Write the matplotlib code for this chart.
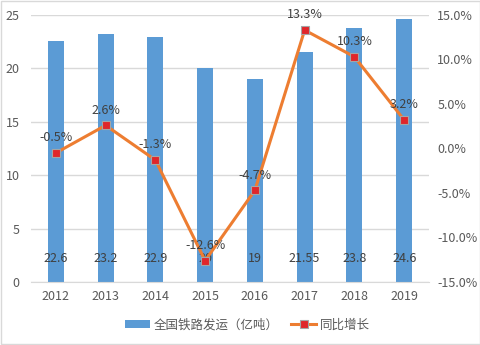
import matplotlib.pyplot as plt
import numpy as np

plt.rcParams['font.family'] = ['Noto Sans CJK SC', 'DejaVu Sans']

# yearly freight volume and year-on-year growth
years = ["2012", "2013", "2014", "2015", "2016", "2017", "2018", "2019"]
volume = [22.6, 23.2, 22.9, 20, 19, 21.55, 23.8, 24.6]
volume_labels = ["22.6", "23.2", "22.9", "20", "19", "21.55", "23.8", "24.6"]
growth = [-0.5, 2.6, -1.3, -12.6, -4.7, 13.3, 10.3, 3.2]

txt = "#595959"
x = np.arange(len(years))

fig = plt.figure(figsize=(4.81, 3.45), dpi=100)
ax = fig.add_axes([0.0644, 0.1826, 0.8276, 0.774])
ax2 = ax.twinx()

bars = ax.bar(x, volume, width=0.32, color="#5B9BD5", zorder=2, label="全国铁路发运（亿吨）")
ax.set_ylim(0, 25)
ax.set_yticks([0, 5, 10, 15, 20, 25])
ax.set_xlim(-0.5, len(years) - 0.5)
ax.set_xticks(x)
ax.set_xticklabels(years)
ax.grid(axis="y", color="#D9D9D9", linewidth=1, zorder=0)
ax.set_axisbelow(True)

for xi, lab in zip(x, volume_labels):
    ax.annotate(lab, (xi, 0), xytext=(0, 17), textcoords="offset points",
                ha="center", va="center", fontsize=9, color="#404040")

line, = ax2.plot(x, growth, color="#ED7D31", linewidth=2.2, marker="s", markersize=5.5,
                 markerfacecolor="#E0262A", markeredgecolor="#A5A5A5", markeredgewidth=0.8,
                 zorder=3, label="同比增长")
ax2.set_ylim(-15, 15)
ax2.set_yticks(np.arange(-15, 16, 5))
ax2.set_yticklabels([f"{v:.1f}%" for v in np.arange(-15, 16, 5)])

for xi, g in zip(x, growth):
    ax2.annotate(f"{g}%", (xi, g), xytext=(0, 11), textcoords="offset points",
                 ha="center", va="center", fontsize=9, color="#404040")

for a in (ax, ax2):
    for s in a.spines.values():
        s.set_visible(False)
    a.tick_params(length=0, labelsize=9, labelcolor=txt)
ax.spines["bottom"].set_visible(True)
ax.spines["bottom"].set_color("#D9D9D9")
ax.tick_params(axis="x", pad=6)
ax.tick_params(axis="y", pad=8)
ax2.tick_params(axis="y", pad=6)

fig.legend(handles=[bars, line], loc="center", bbox_to_anchor=(0.515, 0.058), ncol=2,
           frameon=False, fontsize=9, labelcolor=txt, handlelength=2.0, handleheight=0.55,
           handletextpad=0.3, columnspacing=1.0)

fig.patches.append(plt.Rectangle((0.002, 0.003), 0.996, 0.994, transform=fig.transFigure,
                                 fill=False, edgecolor="#D9D9D9", linewidth=1))

fig.savefig("out.png", dpi=100)
